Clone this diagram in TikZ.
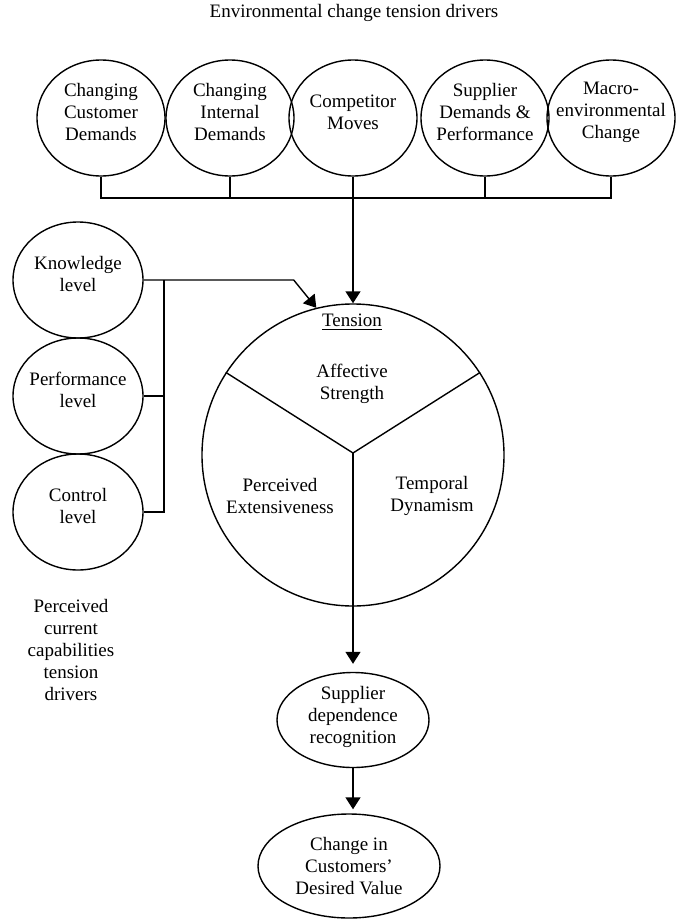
\documentclass[tikz,border=0pt]{standalone}
\usepackage{fontspec}
\setmainfont{Liberation Serif}
\usetikzlibrary{shapes.geometric,arrows.meta}
\begin{document}
\begin{tikzpicture}[x=0.5pt,y=-0.5pt,line width=0.7pt,
    every node/.style={font=\fontsize{9.5}{11}\selectfont,align=center},
    envnode/.style={draw,ellipse,inner sep=0pt,minimum width=64pt,minimum height=58pt,
      label={[yshift=3pt]center:{#1}}},
    capnode/.style={draw,ellipse,inner sep=0pt,minimum width=65pt,minimum height=58pt,
      label={[yshift=3pt]center:{#1}}},
    arr/.style={-{Triangle[length=6pt,width=7.5pt]}}]
  \useasboundingbox (0,0) rectangle (675,921);
  \node (title) at (354,13) {Environmental change tension drivers};
  \node[envnode={Changing\\Customer\\Demands}] (d1) at (101,118) {};
  \node[envnode={Changing\\Internal\\Demands}] (d2) at (230,118) {};
  \node[envnode={Competitor\\Moves}] (d3) at (353,118) {};
  \node[envnode={Supplier\\Demands \&\\Performance}] (d4) at (485,118) {};
  \node[envnode={Macro-\\environmental\\Change}] (d5) at (611,118) {};
  \coordinate (bus) at (353,198);
  \draw (d1.south) -- (d1.south |- bus) -- (d5.south |- bus) -- (d5.south);
  \draw (d2.south) -- (d2.south |- bus);
  \draw (d4.south) -- (d4.south |- bus);
  \node[capnode={Knowledge\\level}] (k) at (78,280) {};
  \node[capnode={Performance\\level}] (p) at (78,396) {};
  \node[capnode={Control\\level}] (cl) at (78,512) {};
  \node (pct) at (71,650) {Perceived\\current\\capabilities\\tension\\drivers};
  \node[draw,circle,inner sep=0pt,minimum size=151pt] (T) at (353,455) {};
  \node (tl) at (352,322) {\underline{Tension}};
  \node (as) at (352,384) {Affective\\Strength};
  \node (pe) at (280,496) {Perceived\\Extensiveness};
  \node (td) at (432,496) {Temporal\\Dynamism};
  \draw[arr] (d3.south) -- (T.north);
  \coordinate (vb) at (164,0);
  \draw[arr] (k.east) -- ++(150,0) -- (T.104);
  \draw (k.east -| vb) -- (cl.east -| vb) -- (cl.east);
  \draw (p.east) -- (p.east -| vb);
  \coordinate (j) at (353,453);
  \draw (T.147) -- (j) -- (T.33);
  \node[draw,ellipse,inner sep=0pt,minimum width=76pt,minimum height=47.5pt,
    label={[yshift=1.5pt]center:{Supplier\\dependence\\recognition}}] (s) at (353,720) {};
  \node[draw,ellipse,inner sep=0pt,minimum width=91pt,minimum height=52pt,
    label={center:{Change in\\Customers'\\Desired Value}}] (c) at (349,866) {};
  \draw[arr,shorten >=4pt] (j) -- (s.north);
  \draw[arr,shorten >=2pt] (s.south) -- (s.south |- c.north);
\end{tikzpicture}
\end{document}
